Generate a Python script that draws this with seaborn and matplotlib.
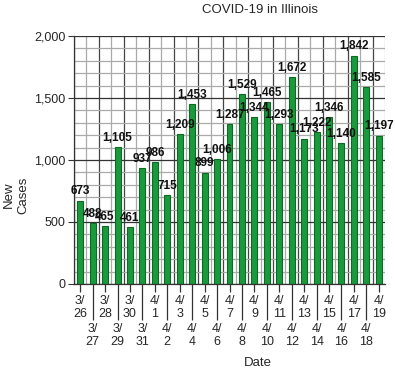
import numpy as np
import pandas as pd
import matplotlib
matplotlib.use("Agg")
import matplotlib.pyplot as plt
import seaborn as sns
from matplotlib.ticker import MultipleLocator, FuncFormatter

sns.set_style("white")
plt.rcParams["font.family"] = ["Liberation Sans", "DejaVu Sans"]

# datos
dates = ["3/26", "3/27", "3/28", "3/29", "3/30", "3/31", "4/1", "4/2", "4/3",
         "4/4", "4/5", "4/6", "4/7", "4/8", "4/9", "4/10", "4/11", "4/12",
         "4/13", "4/14", "4/15", "4/16", "4/17", "4/18", "4/19"]
new_cases = [673, 488, 465, 1105, 461, 937, 986, 715, 1209, 1453, 899, 1006,
             1287, 1529, 1344, 1465, 1293, 1672, 1173, 1222, 1346, 1140, 1842,
             1585, 1197]

df = pd.DataFrame({"date": dates, "cases": new_cases})

fig = plt.figure(figsize=(3.95, 3.72), dpi=100)
ax = fig.add_axes([74 / 395, 1 - 284 / 372, 311 / 395, 248 / 372])

# grid horizontal
ax.set_ylim(0, 2000)
ax.yaxis.set_major_locator(MultipleLocator(500))
ax.yaxis.set_minor_locator(MultipleLocator(100))
ax.grid(which="major", axis="y", color="#333333", lw=0.9)
ax.grid(which="minor", axis="y", color="#aaaaaa", lw=0.9)
ax.set_axisbelow(True)

# grid vertical en los limites de categoria
n = len(dates)
for i in range(n + 1):
    c = "#444444" if i % 2 == 0 else "#aaaaaa"
    ax.axvline(i - 0.5, color=c, lw=0.9, zorder=0)

sns.barplot(data=df, x="date", y="cases", color="#1a9a3c", width=0.48,
            edgecolor="#0c6a25", linewidth=0.8, saturation=1, ax=ax, zorder=2)

for i, v in enumerate(new_cases):
    ax.text(i, v + 25, f"{v:,}", ha="center", va="bottom", fontsize=8.5,
            fontweight="bold", color="#111111", zorder=3)

ax.set_xlim(-0.5, n - 0.5)
ax.yaxis.set_major_formatter(FuncFormatter(lambda v, p: f"{int(v):,}"))

# etiquetas escalonadas
labels = [d.replace("/", "/\n") for d in dates]
even = list(range(0, n, 2))
odd = list(range(1, n, 2))
ax.set_xticks(even, [labels[i] for i in even])
ax.set_xticks(odd, [labels[i] for i in odd], minor=True)
ax.tick_params(axis="x", which="major", length=6, width=0.9, color="#333333",
               pad=2, labelsize=9, bottom=True)
ax.tick_params(axis="x", which="minor", length=26, width=0.9, color="#333333",
               pad=2, labelsize=9, bottom=True)
ax.tick_params(axis="y", which="major", length=4, labelsize=9, left=True,
               color="#333333", pad=2)
ax.tick_params(axis="y", which="minor", length=0)
for lab in ax.get_xticklabels(which="both"):
    lab.set_linespacing(1.15)

for s in ["top", "right"]:
    ax.spines[s].set_visible(False)
for s in ["left", "bottom"]:
    ax.spines[s].set_color("#333333")
    ax.spines[s].set_linewidth(0.9)

ax.set_xlabel("")
ax.set_ylabel("")
fig.text(16 / 395, 1 - 195 / 372, "New\nCases", rotation=90, ha="center",
         va="center", fontsize=9.5)
fig.text(258 / 395, 1 - 363 / 372, "Date", ha="center", va="center", fontsize=9.5)
fig.text(260 / 395, 1 - 10 / 372, "COVID-19 in Illinois", ha="center",
         va="center", fontsize=9.5)

fig.savefig("out.png", dpi=100)
